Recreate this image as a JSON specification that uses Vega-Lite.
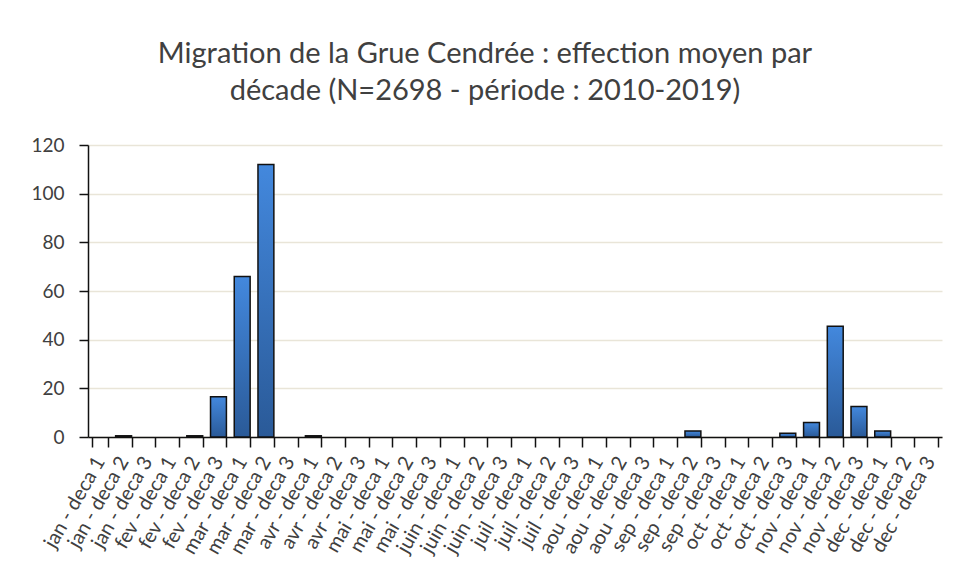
{
  "$schema": "https://vega.github.io/schema/vega-lite/v6.json",
  "width": 854,
  "height": 292,
  "autosize": {"type": "none"},
  "padding": {"left": 88, "top": 145, "right": 18, "bottom": 147},
  "background": "white",
  "title": {
    "text": ["Migration de la Grue Cendrée : effection moyen par", "décade (N=2698 - période : 2010-2019)"],
    "anchor": "middle",
    "frame": "group",
    "dx": -30,
    "offset": 30,
    "font": "Lato",
    "fontSize": 29,
    "fontWeight": "normal",
    "color": "#404040",
    "lineHeight": 37
  },
  "data": {
    "values": [
      {"decade": "jan - deca 1", "value": 0},
      {"decade": "jan - deca 2", "value": 0.5},
      {"decade": "jan - deca 3", "value": 0},
      {"decade": "fev - deca 1", "value": 0},
      {"decade": "fev - deca 2", "value": 0.5},
      {"decade": "fev - deca 3", "value": 16.5},
      {"decade": "mar - deca 1", "value": 66},
      {"decade": "mar - deca 2", "value": 112},
      {"decade": "mar - deca 3", "value": 0},
      {"decade": "avr - deca 1", "value": 0.5},
      {"decade": "avr - deca 2", "value": 0},
      {"decade": "avr - deca 3", "value": 0},
      {"decade": "mai - deca 1", "value": 0},
      {"decade": "mai - deca 2", "value": 0},
      {"decade": "mai - deca 3", "value": 0},
      {"decade": "juin - deca 1", "value": 0},
      {"decade": "juin - deca 2", "value": 0},
      {"decade": "juin - deca 3", "value": 0},
      {"decade": "juil - deca 1", "value": 0},
      {"decade": "juil - deca 2", "value": 0},
      {"decade": "juil - deca 3", "value": 0},
      {"decade": "aou - deca 1", "value": 0},
      {"decade": "aou - deca 2", "value": 0},
      {"decade": "aou - deca 3", "value": 0},
      {"decade": "sep - deca 1", "value": 0},
      {"decade": "sep - deca 2", "value": 2.5},
      {"decade": "sep - deca 3", "value": 0},
      {"decade": "oct - deca 1", "value": 0},
      {"decade": "oct - deca 2", "value": 0},
      {"decade": "oct - deca 3", "value": 1.5},
      {"decade": "nov - deca 1", "value": 6},
      {"decade": "nov - deca 2", "value": 45.5},
      {"decade": "nov - deca 3", "value": 12.5},
      {"decade": "dec - deca 1", "value": 2.5},
      {"decade": "dec - deca 2", "value": 0},
      {"decade": "dec - deca 3", "value": 0}
    ]
  },
  "mark": {
    "type": "bar",
    "fill": {
      "gradient": "linear",
      "x1": 0, "y1": 0, "x2": 0, "y2": 1,
      "stops": [
        {"offset": 0, "color": "#4388DD"},
        {"offset": 1, "color": "#2A5A98"}
      ]
    },
    "strokeWidth": 1.5
  },
  "encoding": {
    "x": {
      "field": "decade",
      "type": "nominal",
      "sort": null,
      "scale": {"paddingInner": 0.33, "paddingOuter": 0.165},
      "axis": {
        "title": null,
        "labelAngle": -60,
        "labelFont": "Lato",
        "labelFontSize": 20,
        "labelColor": "#404040",
        "tickBand": "extent",
        "tickSize": 10,
        "tickColor": "#111111",
        "tickWidth": 1.5,
        "domainColor": "#111111",
        "domainWidth": 1.5,
        "labelPadding": 11,
        "grid": false
      }
    },
    "y": {
      "field": "value",
      "type": "quantitative",
      "scale": {"domain": [0, 120], "nice": false},
      "axis": {
        "title": null,
        "values": [0, 20, 40, 60, 80, 100, 120],
        "labelFont": "Lato",
        "labelFontSize": 19,
        "labelColor": "#404040",
        "tickSize": 9,
        "tickColor": "#111111",
        "tickWidth": 1.5,
        "domainColor": "#111111",
        "domainWidth": 1.5,
        "labelPadding": 15,
        "grid": true,
        "gridColor": "#E9E5D8",
        "gridWidth": 1.3
      }
    },
    "stroke": {
      "condition": {"test": "datum.value > 0", "value": "#111111"},
      "value": "transparent"
    }
  },
  "config": {
    "view": {"stroke": null}
  }
}
